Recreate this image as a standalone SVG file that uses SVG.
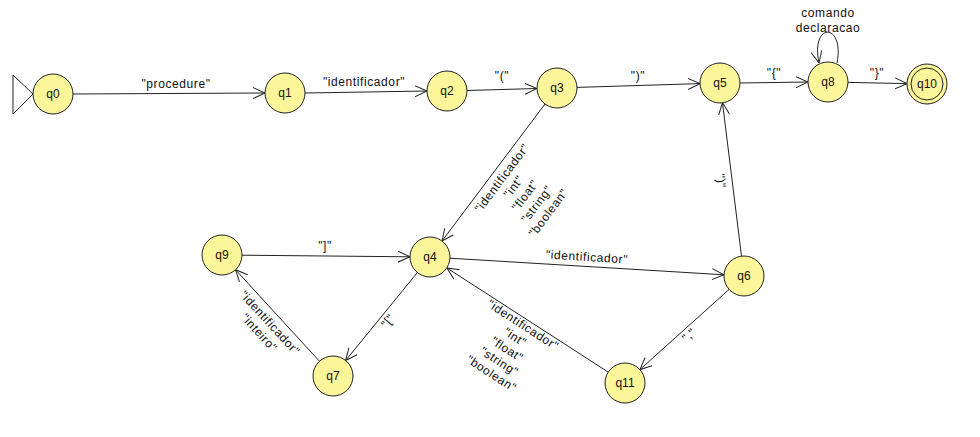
<svg xmlns="http://www.w3.org/2000/svg" width="980" height="437" viewBox="0 0 980 437">
  <defs>
    <marker id="arr" viewBox="0 0 12 12" refX="12" refY="6" markerWidth="12" markerHeight="12" markerUnits="userSpaceOnUse" orient="auto">
      <path d="M0,0.5 L12,6 L0,11.5" fill="none" stroke="#222" stroke-width="1"/>
    </marker>
  </defs>
  <style>
    .state { fill: #fcf69a; stroke: #222; stroke-width: 1; }
    .name { font-family: "Liberation Sans", Arial, sans-serif; font-size: 12px; text-anchor: middle; fill: #111; }
    .edge { fill: none; stroke: #222; stroke-width: 1; marker-end: url(#arr); }
    .lbl { font-family: "Liberation Sans", Arial, sans-serif; font-size: 12px; letter-spacing: 0.6px; text-anchor: middle; fill: #111; }
  </style>
  <rect width="980" height="437" fill="#ffffff"/>

  <!-- transitions -->
  <g id="edges">
    <line class="edge" x1="73" y1="94" x2="265" y2="93"/>
    <line class="edge" x1="305" y1="93" x2="427" y2="91"/>
    <line class="edge" x1="467" y1="90.5" x2="537" y2="88.5"/>
    <line class="edge" x1="577" y1="87.4" x2="700" y2="83.6"/>
    <line class="edge" x1="740" y1="83" x2="808" y2="82"/>
    <line class="edge" x1="848" y1="82.4" x2="907" y2="83.6"/>
    <path class="edge" d="M837,63 C845,22 810,22 819,63"/>
    <line class="edge" x1="545" y1="104" x2="442" y2="241"/>
    <line class="edge" x1="450" y1="258.2" x2="724" y2="274.8"/>
    <line class="edge" x1="741.5" y1="256.2" x2="722.5" y2="102.8"/>
    <line class="edge" x1="729.1" y1="289.4" x2="639.9" y2="369.6"/>
    <line class="edge" x1="608.2" y1="372.1" x2="446.8" y2="267.9"/>
    <line class="edge" x1="417.4" y1="272.5" x2="345.6" y2="360.5"/>
    <line class="edge" x1="319.5" y1="361.3" x2="235.5" y2="269.7"/>
    <line class="edge" x1="242" y1="255.2" x2="410" y2="256.8"/>

    <!-- transition labels -->
    <text class="lbl" x="176" y="88">"procedure"</text>
    <text class="lbl" x="364" y="86">"identificador"</text>
    <text class="lbl" x="502" y="80">"("</text>
    <text class="lbl" x="638" y="80">")"</text>
    <text class="lbl" x="774" y="77">"{"</text>
    <text class="lbl" x="877" y="77">"}"</text>
    <text class="lbl" x="828" y="17">comando</text>
    <text class="lbl" x="828" y="32">declaracao</text>
    <text class="lbl" x="325" y="250">"]"</text>
    <g transform="translate(502,178) rotate(-53.1)">
      <text class="lbl" x="0" y="4">"identificador"</text>
      <text class="lbl" x="0" y="18.5">"int"</text>
      <text class="lbl" x="0" y="33">"float"</text>
      <text class="lbl" x="0" y="47.5">"string"</text>
      <text class="lbl" x="0" y="62">"boolean"</text>
    </g>
    <g transform="translate(587,257) rotate(3.5)">
      <text class="lbl" x="0" y="4">"identificador"</text>
    </g>
    <g transform="translate(721,181) rotate(83)">
      <text class="lbl" x="0" y="4">")"</text>
    </g>
    <g transform="translate(689,335) rotate(-42)">
      <text class="lbl" x="0" y="4">","</text>
    </g>
    <g transform="translate(523,325) rotate(32.9)">
      <text class="lbl" x="0" y="4">"identificador"</text>
      <text class="lbl" x="0" y="18.5">"int"</text>
      <text class="lbl" x="0" y="33">"float"</text>
      <text class="lbl" x="0" y="47.5">"string"</text>
      <text class="lbl" x="0" y="62">"boolean"</text>
    </g>
    <g transform="translate(388,321) rotate(-50.8)">
      <text class="lbl" x="0" y="4">"["</text>
    </g>
    <g transform="translate(270,323) rotate(47.5)">
      <text class="lbl" x="0" y="4">"identificador"</text>
      <text class="lbl" x="0" y="18.5">"inteiro"</text>
    </g>
  </g>

  <!-- initial state marker -->
  <path d="M13,75 L33,94 L13,114 Z" fill="#ffffff" stroke="#222" stroke-width="1"/>

  <g id="q0"><circle class="state" cx="53" cy="94" r="20"/><text class="name" x="53" y="98">q0</text></g>
  <g id="q1"><circle class="state" cx="285" cy="93" r="20"/><text class="name" x="285" y="97">q1</text></g>
  <g id="q2"><circle class="state" cx="447" cy="91" r="20"/><text class="name" x="447" y="95">q2</text></g>
  <g id="q3"><circle class="state" cx="557" cy="88" r="20"/><text class="name" x="557" y="92">q3</text></g>
  <g id="q5"><circle class="state" cx="720" cy="83" r="20"/><text class="name" x="720" y="87">q5</text></g>
  <g id="q8"><circle class="state" cx="828" cy="82" r="20"/><text class="name" x="828" y="86">q8</text></g>
  <g id="q10"><circle class="state" cx="927" cy="84" r="20"/><circle class="state" cx="927" cy="84" r="16"/><text class="name" x="927" y="88">q10</text></g>
  <g id="q9"><circle class="state" cx="222" cy="255" r="20"/><text class="name" x="222" y="259">q9</text></g>
  <g id="q4"><circle class="state" cx="430" cy="257" r="20"/><text class="name" x="430" y="261">q4</text></g>
  <g id="q7"><circle class="state" cx="333" cy="376" r="20"/><text class="name" x="333" y="380">q7</text></g>
  <g id="q6"><circle class="state" cx="744" cy="276" r="20"/><text class="name" x="744" y="280">q6</text></g>
  <g id="q11"><circle class="state" cx="625" cy="383" r="20"/><text class="name" x="625" y="387">q11</text></g>
</svg>
